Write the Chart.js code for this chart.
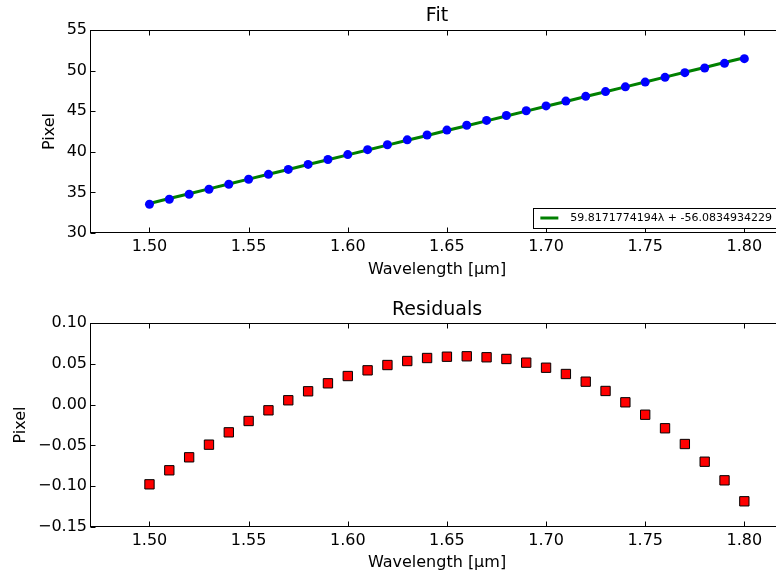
<!DOCTYPE html>
<html>
<head>
<meta charset="utf-8">
<script src="https://cdn.jsdelivr.net/npm/chart.js@4.4.1/dist/chart.umd.min.js"></script>
<style>
html,body{margin:0;padding:0;background:#fff;overflow:hidden;width:776px;height:576px;}
canvas{position:absolute;left:0;display:block;}
#c1{top:0;}
#c2{top:290px;}
</style>
</head>
<body>
<canvas id="c1" width="800" height="290"></canvas>
<canvas id="c2" width="800" height="286"></canvas>
<script>
// ---- data ----
const wavelengths = [1.50,1.51,1.52,1.53,1.54,1.55,1.56,1.57,1.58,1.59,1.60,1.61,1.62,1.63,1.64,1.65,1.66,1.67,1.68,1.69,1.70,1.71,1.72,1.73,1.74,1.75,1.76,1.77,1.78,1.79,1.80];
const pixelMeasured = [33.545,34.160,34.774,35.388,36.001,36.613,37.224,37.835,38.444,39.052,39.659,40.264,40.869,41.472,42.074,42.674,43.272,43.869,44.465,45.059,45.651,46.241,46.830,47.417,48.001,48.584,49.166,49.745,50.321,50.897,51.469];
const pixelFit = [33.642,34.241,34.839,35.437,36.035,36.633,37.231,37.830,38.428,39.026,39.624,40.222,40.820,41.419,42.017,42.615,43.213,43.811,44.409,45.008,45.606,46.204,46.802,47.400,47.999,48.597,49.195,49.793,50.391,50.989,51.588];
const residuals = [-0.0977,-0.0805,-0.0646,-0.0491,-0.0340,-0.0201,-0.0070,0.0053,0.0163,0.0261,0.0350,0.0420,0.0485,0.0534,0.0571,0.0587,0.0592,0.0580,0.0559,0.0514,0.0452,0.0375,0.0281,0.0167,0.0028,-0.0124,-0.0290,-0.0483,-0.0700,-0.0928,-0.1185];
const fitLabel = "59.8171774194\u03bb + -56.0834934229";
const xTicks = [1.50,1.55,1.60,1.65,1.70,1.75,1.80];
const yTicksFit = [30,35,40,45,50,55];
const yTicksRes = [-0.15,-0.10,-0.05,0.00,0.05,0.10];
const titles = ["Fit","Residuals"];
const xLabel = "Wavelength [\u03bcm]";
const yLabel = "Pixel";

const FONT = "'DejaVu Sans', sans-serif";

const framePlugin = {
  id: 'frame',
  afterDraw(chart) {
    const ctx = chart.ctx, a = chart.chartArea;
    ctx.save();
    ctx.strokeStyle = '#000';
    ctx.lineWidth = 1;
    const L = Math.round(a.left)+0.5, R = Math.round(a.right)-0.5, T = Math.round(a.top)+0.5, B = Math.round(a.bottom)-0.5;
    ctx.strokeRect(L, T, R-L, B-T);
    const tl = 5;
    ctx.beginPath();
    const xs = chart.scales.x, ys = chart.scales.y;
    xs.ticks.forEach(t => {
      const px = Math.round(xs.getPixelForValue(t.value))+0.5;
      ctx.moveTo(px, B); ctx.lineTo(px, B-tl);
      ctx.moveTo(px, T); ctx.lineTo(px, T+tl);
    });
    ys.ticks.forEach(t => {
      const py = Math.round(ys.getPixelForValue(t.value))+0.5;
      ctx.moveTo(L, py); ctx.lineTo(L+tl, py);
      ctx.moveTo(R, py); ctx.lineTo(R-tl, py);
    });
    ctx.stroke();

    const leg = chart.options.plugins.fitLegend;
    if (leg && leg.display) {
      ctx.font = "11px " + FONT;
      const tw = ctx.measureText(leg.text).width;
      const bh = 20;
      const right = a.right - 6, bottom = a.bottom - 5;
      const bw = 7 + 18 + 12 + tw + 6;
      const left = right - bw, top = bottom - bh;
      ctx.fillStyle = '#fff';
      ctx.fillRect(left, top, bw, bh);
      ctx.strokeStyle = '#000';
      ctx.lineWidth = 1;
      ctx.strokeRect(Math.round(left)+0.5, Math.round(top)+0.5, Math.round(bw), Math.round(bh));
      ctx.strokeStyle = leg.color;
      ctx.lineWidth = 3;
      ctx.beginPath();
      ctx.moveTo(left+7, top+bh/2); ctx.lineTo(left+25, top+bh/2);
      ctx.stroke();
      ctx.fillStyle = '#000';
      ctx.textBaseline = 'middle';
      ctx.textAlign = 'left';
      ctx.fillText(leg.text, left+37, top+bh/2+0.5);
    }
    ctx.restore();
  }
};

function fmtMinus(s){ return s.replace('-', '\u2212'); }

function makeOptions(cfg) {
  return {
    responsive: false,
    animation: false,
    layout: { padding: { left: 0, right: 16, top: 0, bottom: 0 } },
    plugins: {
      legend: { display: false },
      tooltip: { enabled: false },
      title: {
        display: true, text: cfg.title, fullSize: false,
        color: '#000',
        font: { family: FONT, size: 19, weight: 'normal', lineHeight: 1.0 },
        padding: { top: cfg.titleTop, bottom: cfg.titleBottom }
      },
      fitLegend: cfg.legend || { display: false }
    },
    scales: {
      x: {
        type: 'linear', min: 1.47, max: 1.82,
        grid: { display: false, drawTicks: false },
        border: { display: false },
        afterBuildTicks: s => { s.ticks = xTicks.map(v => ({ value: v })); },
        afterFit: s => { s.height = cfg.xHeight; },
        ticks: {
          color: '#000', padding: 4,
          font: { family: FONT, size: 16 },
          callback: v => v.toFixed(2)
        },
        title: {
          display: true, text: xLabel, color: '#000',
          font: { family: FONT, size: 16, lineHeight: 1.2 },
          padding: { top: 0, bottom: cfg.xTitlePad }
        }
      },
      y: {
        type: 'linear', min: cfg.ymin, max: cfg.ymax,
        grid: { display: false, drawTicks: false },
        border: { display: false },
        afterBuildTicks: s => { s.ticks = cfg.yTicks.map(v => ({ value: v })); },
        afterFit: s => { s.width = 90; },
        ticks: {
          color: '#000', padding: 3,
          font: { family: FONT, size: 16 },
          callback: cfg.yFmt
        },
        title: {
          display: true, text: yLabel, color: '#000',
          font: { family: FONT, size: 16, lineHeight: 1.2 },
          padding: { top: cfg.yTitlePad, bottom: 0 }
        }
      }
    }
  };
}

new Chart(document.getElementById('c1'), {
  type: 'scatter',
  data: {
    datasets: [
      {
        label: 'data',
        data: wavelengths.map((w, i) => ({ x: w, y: pixelMeasured[i] })),
        showLine: false,
        pointStyle: 'circle', pointRadius: 4.5,
        backgroundColor: '#0000ff', borderColor: '#0000ff', borderWidth: 0
      },
      {
        label: fitLabel,
        data: wavelengths.map((w, i) => ({ x: w, y: pixelFit[i] })),
        showLine: true, pointRadius: 0,
        borderColor: '#008000', borderWidth: 3, fill: false
      }
    ]
  },
  options: makeOptions({
    title: titles[0], titleTop: 7, titleBottom: 4,
    xHeight: 57, xTitlePad: 10.4, yTitlePad: 40,
    ymin: 30, ymax: 55, yTicks: yTicksFit,
    yFmt: v => String(Math.round(v)),
    legend: { display: true, text: fitLabel, color: '#008000' }
  }),
  plugins: [framePlugin]
});

new Chart(document.getElementById('c2'), {
  type: 'scatter',
  data: {
    datasets: [
      {
        label: 'residuals',
        data: wavelengths.map((w, i) => ({ x: w, y: residuals[i] })),
        showLine: false,
        pointStyle: 'rect', pointRadius: 6.6,
        backgroundColor: '#ff0000', borderColor: '#000', borderWidth: 1
      }
    ]
  },
  options: makeOptions({
    title: titles[1], titleTop: 10.5, titleBottom: 3.5,
    xHeight: 49, xTitlePad: 3.4, yTitlePad: 11.5,
    ymin: -0.15, ymax: 0.10, yTicks: yTicksRes,
    yFmt: v => fmtMinus(v.toFixed(2))
  }),
  plugins: [framePlugin]
});
</script>
</body>
</html>
